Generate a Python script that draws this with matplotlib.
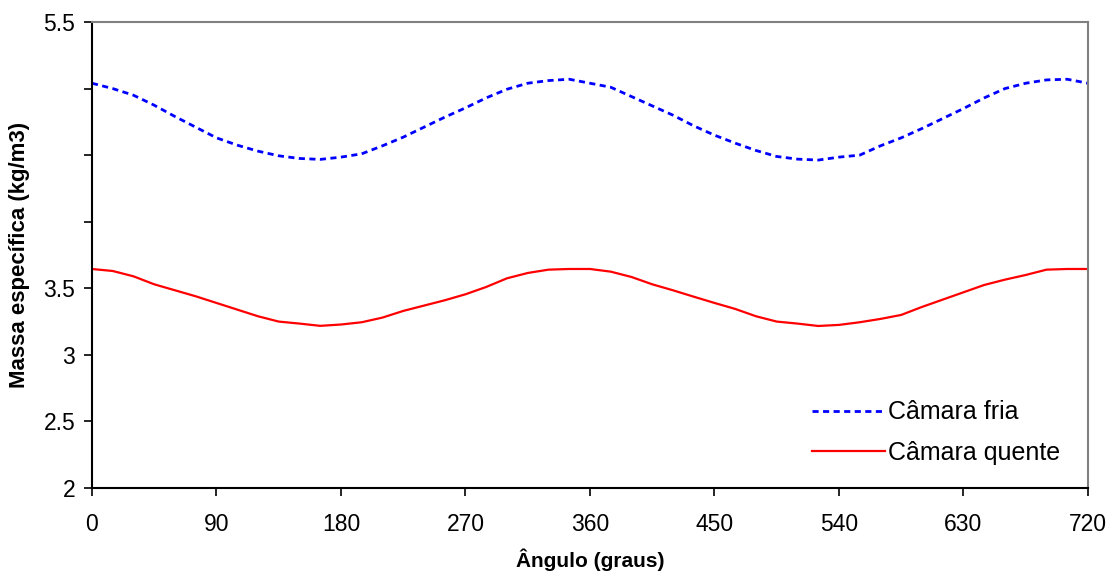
import matplotlib
matplotlib.use("Agg")
import matplotlib.pyplot as plt

plt.rcParams['font.family'] = ['Liberation Sans', 'DejaVu Sans']

# Crank angle (degrees)
angulo = [0, 15, 30, 45, 60, 75, 90, 105, 120, 135, 150, 165, 180, 195, 210,
          225, 240, 255, 270, 285, 300, 315, 330, 345, 360, 375, 390, 405,
          420, 435, 450, 465, 480, 495, 510, 525, 540, 555, 570, 585, 600,
          615, 630, 645, 660, 675, 690, 705, 720]

# Density in the cold chamber (kg/m3)
camara_fria = [5.04, 5.00, 4.95, 4.875, 4.79, 4.71, 4.63, 4.575, 4.53, 4.495,
               4.475, 4.468, 4.485, 4.51, 4.57, 4.635, 4.71, 4.785, 4.855,
               4.93, 4.995, 5.04, 5.06, 5.07, 5.04, 5.01, 4.94, 4.87, 4.80,
               4.72, 4.65, 4.59, 4.535, 4.49, 4.47, 4.463, 4.485, 4.50, 4.57,
               4.63, 4.70, 4.775, 4.85, 4.93, 5.00, 5.04, 5.065, 5.07, 5.04]

# Density in the hot chamber (kg/m3)
camara_quente = [3.645, 3.63, 3.59, 3.53, 3.485, 3.44, 3.39, 3.34, 3.29, 3.25,
                 3.235, 3.218, 3.228, 3.245, 3.28, 3.33, 3.37, 3.41, 3.455,
                 3.51, 3.575, 3.615, 3.64, 3.645, 3.645, 3.625, 3.585, 3.53,
                 3.485, 3.437, 3.39, 3.345, 3.29, 3.25, 3.235, 3.217, 3.225,
                 3.245, 3.27, 3.30, 3.36, 3.415, 3.47, 3.525, 3.565, 3.60,
                 3.64, 3.645, 3.645]

x_ticks = [0, 90, 180, 270, 360, 450, 540, 630, 720]
y_ticks = [2, 2.5, 3, 3.5, 4, 4.5, 5, 5.5]
y_tick_labels = ['2', '2.5', '3', '3.5', '', '', '', '5.5']

fig = plt.figure(figsize=(11.12, 5.77), dpi=100)
ax = fig.add_axes([0.0827, 0.1542, 0.8957, 0.8077])

ax.plot(angulo, camara_fria, color='#0000FF', lw=2.0,
        linestyle=(0, (2.2, 1.6)), label='Câmara fria')
ax.plot(angulo, camara_quente, color='#FF0000', lw=1.6,
        label='Câmara quente')

ax.set_xlim(0, 720)
ax.set_ylim(2, 5.5)
ax.set_xticks(x_ticks)
ax.set_xticklabels([str(t) for t in x_ticks])
ax.set_yticks(y_ticks)
ax.set_yticklabels(y_tick_labels)
ax.tick_params(axis='both', direction='out', length=6, width=1.2,
               labelsize=16.5, colors='black')
ax.tick_params(axis='x', pad=12)
ax.tick_params(axis='y', pad=6)

for side in ('left', 'bottom'):
    ax.spines[side].set_color('black')
    ax.spines[side].set_linewidth(1.5)
for side in ('top', 'right'):
    ax.spines[side].set_color('#808080')
    ax.spines[side].set_linewidth(1.5)

ax.set_xlabel('Ângulo (graus)', fontsize=15, fontweight='bold', labelpad=9)
ax.set_ylabel('Massa específica (kg/m3)', fontsize=16, fontweight='bold',
              labelpad=10)

leg = ax.legend(loc='center left', bbox_to_anchor=(0.723, 0.119),
                frameon=False, fontsize=18, handlelength=2.92,
                handletextpad=0.12, labelspacing=0.65, borderpad=0,
                borderaxespad=0)

fig.savefig('out.png', dpi=100)
